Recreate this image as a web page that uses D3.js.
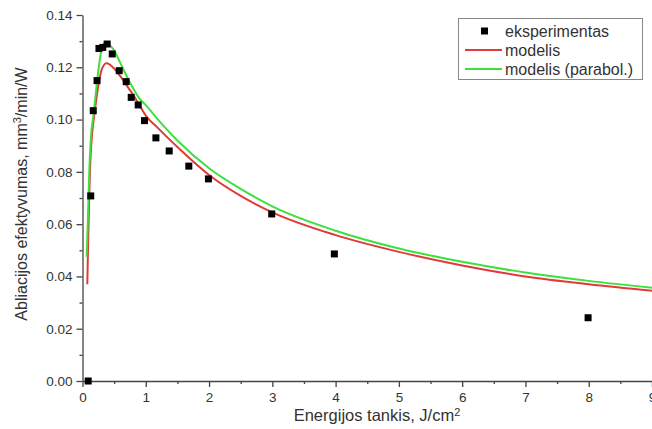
<!DOCTYPE html>
<html>
<head>
<meta charset="utf-8">
<script src="https://cdn.jsdelivr.net/npm/d3@7"></script>
<style>
  body { margin: 0; background: #fff; }
  text { font-family: "Liberation Sans", Arial, sans-serif; fill: #333; }
</style>
</head>
<body>
<div id="chart"></div>
<script>
// experimental points (energy density, ablation efficiency)
var expX = [0.09, 0.13, 0.17, 0.23, 0.26, 0.32, 0.39, 0.47, 0.58, 0.69, 0.77, 0.88, 0.98, 1.16, 1.37, 1.68, 1.99, 2.99, 3.98, 7.99];
var expY = [0.000, 0.0708, 0.1034, 0.1149, 0.1272, 0.1276, 0.1289, 0.1251, 0.1187, 0.1145, 0.1085, 0.1056, 0.0996, 0.0930, 0.0880, 0.0822, 0.0773, 0.0639, 0.0486, 0.0242];

// model curve (red)
var modelX = [0.076, 0.09, 0.11, 0.13, 0.15, 0.19, 0.256, 0.31, 0.38, 0.5, 0.6, 0.7, 0.8, 0.9, 1.0, 1.17, 1.5, 2.0, 2.5, 3.0, 4.0, 5.0, 6.0, 7.0, 8.0, 9.0];
var modelY = [0.037, 0.054, 0.074, 0.087, 0.094, 0.1024, 0.1139, 0.1196, 0.1215, 0.1195, 0.1165, 0.113, 0.1095, 0.1055, 0.1015, 0.0973, 0.0895, 0.0788, 0.0708, 0.0645, 0.0558, 0.0494, 0.0442, 0.0400, 0.0370, 0.0345];

// parabolic model curve (green)
var parabX = [0.066, 0.09, 0.11, 0.13, 0.177, 0.245, 0.30, 0.34, 0.37, 0.45, 0.5, 0.6, 0.7, 0.8, 0.9, 1.0, 1.2, 1.5, 2.0, 2.5, 3.0, 4.0, 5.0, 6.0, 7.0, 8.0, 9.0];
var parabY = [0.0475, 0.066, 0.082, 0.092, 0.1024, 0.1177, 0.1266, 0.1292, 0.1296, 0.128, 0.1265, 0.1215, 0.1165, 0.112, 0.108, 0.1055, 0.0998, 0.092, 0.0814, 0.0735, 0.0668, 0.0575, 0.0507, 0.0456, 0.0415, 0.0383, 0.0357];

var xTicks = [0, 1, 2, 3, 4, 5, 6, 7, 8, 9];
var yTicks = [0, 0.02, 0.04, 0.06, 0.08, 0.10, 0.12, 0.14];
var legendNames = ["eksperimentas", "modelis", "modelis (parabol.)"];

var width = 652, height = 429;

var svg = d3.select("#chart")
  .append("svg")
    .attr("width", width)
    .attr("height", height);

var x = d3.scaleLinear()
    .domain([0, 9])
    .range([82.5, 652]);

var y = d3.scaleLinear()
    .domain([0, 0.14])
    .range([381, 15]);

// minor ticks first, then major ticks on top
svg.append("g")
    .attr("transform", "translate(0," + y(0) + ")")
    .call(d3.axisBottom(x).tickValues(d3.range(0.5, 9, 1)).tickSize(3).tickFormat(""))
    .call(function(g) { g.select(".domain").remove(); });
svg.append("g")
    .attr("transform", "translate(" + x(0) + ",0)")
    .call(d3.axisLeft(y).tickValues(d3.range(0.01, 0.14, 0.02)).tickSize(3).tickFormat(""))
    .call(function(g) { g.select(".domain").remove(); });

var xAxis = svg.append("g")
    .attr("transform", "translate(0," + y(0) + ")")
    .call(d3.axisBottom(x).tickValues(xTicks).tickSize(6).tickSizeOuter(0).tickFormat(d3.format("d")));

var yAxis = svg.append("g")
    .attr("transform", "translate(" + x(0) + ",0)")
    .call(d3.axisLeft(y).tickValues(yTicks).tickSize(6).tickSizeOuter(0).tickFormat(d3.format(".2f")));

svg.selectAll(".domain, .tick line")
    .attr("stroke", "#444")
    .attr("stroke-width", 1.3);
xAxis.selectAll(".tick text").attr("font-size", 13.5).attr("dy", "0.88em").attr("fill", "#333");
yAxis.selectAll(".tick text").attr("font-size", 13.5).attr("dx", "-1px").attr("fill", "#333");
xAxis.attr("font-family", null);
yAxis.attr("font-family", null);

// axis titles
var xt = svg.append("text")
    .attr("x", 377)
    .attr("y", 421)
    .attr("text-anchor", "middle")
    .attr("font-size", 16.5);
xt.append("tspan").text("Energijos tankis, J/cm");
xt.append("tspan").attr("font-size", 11).attr("dy", -5).text("2");

var yt = svg.append("text")
    .attr("transform", "translate(27,194) rotate(-90)")
    .attr("text-anchor", "middle")
    .attr("font-size", 16);
yt.append("tspan").text("Abliacijos efektyvumas, mm");
yt.append("tspan").attr("font-size", 11).attr("dy", -6).text("3");
yt.append("tspan").attr("dy", 6).text("/min/W");

// curves
var line = d3.line()
    .x(function(d) { return x(d[0]); })
    .y(function(d) { return y(d[1]); })
    .curve(d3.curveMonotoneX);

svg.append("path")
    .datum(d3.zip(modelX, modelY))
    .attr("fill", "none")
    .attr("stroke", "#e03a3a")
    .attr("stroke-width", 2)
    .attr("d", line);

svg.append("path")
    .datum(d3.zip(parabX, parabY))
    .attr("fill", "none")
    .attr("stroke", "#3de03d")
    .attr("stroke-width", 2)
    .attr("d", line);

// experimental squares
svg.append("g")
  .selectAll("rect")
  .data(d3.zip(expX, expY))
  .enter()
  .append("rect")
    .attr("x", function(d) { return x(d[0]) - 3.5; })
    .attr("y", function(d) { return y(d[1]) - 3.5; })
    .attr("width", 7)
    .attr("height", 7)
    .attr("fill", "#000");

// legend
var legend = svg.append("g");
legend.append("rect")
    .attr("x", 458.5)
    .attr("y", 18.5)
    .attr("width", 184)
    .attr("height", 61)
    .attr("fill", "#fff")
    .attr("stroke", "#888")
    .attr("stroke-width", 1);

legendNames.forEach(function(name, i) {
  var ly = 31 + i * 19;
  if (i === 0) {
    legend.append("rect")
      .attr("x", 481).attr("y", ly - 3.5)
      .attr("width", 7).attr("height", 7)
      .attr("fill", "#000");
  } else {
    legend.append("line")
      .attr("x1", 465).attr("x2", 502)
      .attr("y1", ly).attr("y2", ly)
      .attr("stroke", i === 1 ? "#e03a3a" : "#3de03d")
      .attr("stroke-width", 2);
  }
  legend.append("text")
    .attr("x", 505)
    .attr("y", ly)
    .attr("dy", "0.35em")
    .attr("font-size", 16)
    .attr("fill", "#222")
    .text(name);
});
</script>
</body>
</html>
